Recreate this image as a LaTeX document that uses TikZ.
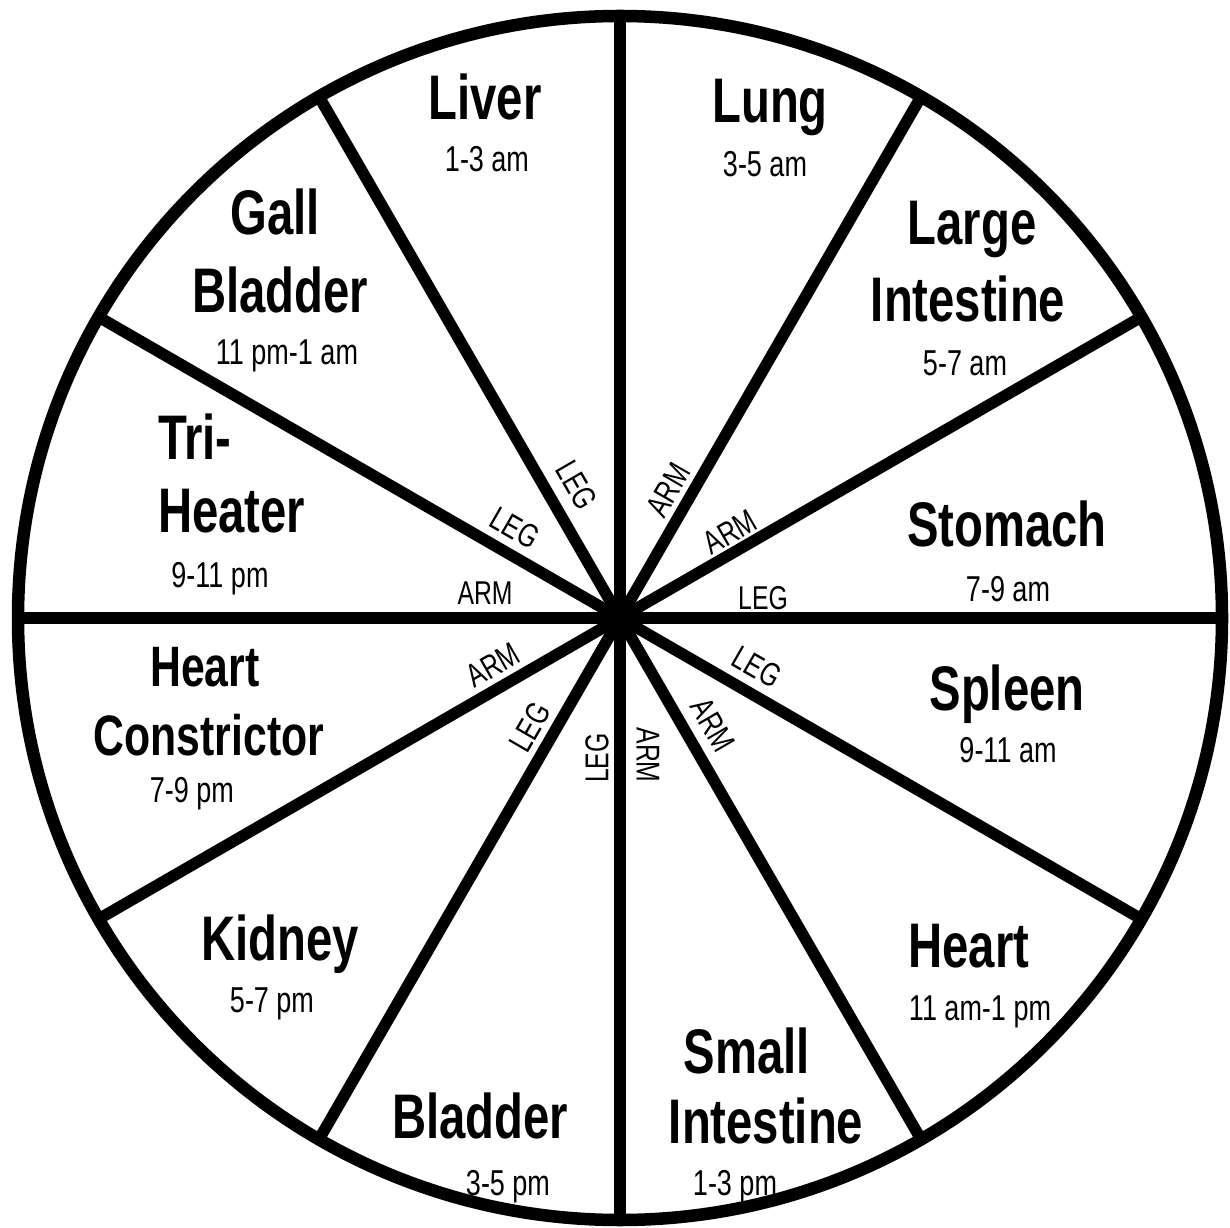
\documentclass[tikz,border=0pt]{standalone}
\usepackage{fontspec}
\setmainfont{Liberation Sans}[FakeStretch=0.75]
\usepackage{tikz}
\usetikzlibrary{positioning,calc}

\begin{document}
\begin{tikzpicture}[x=1pt,y=1pt,
	organ/.style={font=\fontsize{63}{70}\selectfont\bfseries, anchor=base, inner sep=0pt},
	organsm/.style={font=\fontsize{57}{64}\selectfont\bfseries, anchor=base, inner sep=0pt},
	hours/.style={font=\fontsize{36}{40}\selectfont, anchor=base, inner sep=0pt},
	limb/.style={font=\fontsize{33}{36}\selectfont, inner sep=0pt},
	spoke/.style={line width=11.5pt},
	rim/.style={line width=12.5pt}]
		\useasboundingbox (0,0) rectangle (1230,1227);

		% wheel
		\coordinate (hub) at (620,609);
		\draw[rim] (hub) circle (602);
		\foreach \a in {0,30,...,330}
			\draw[spoke] (hub) -- ++(\a:602);
		\fill (hub) circle (20);

		% organs and hours
		\node[organ] (liver) at (485,1107) {Liver};
		\node[hours] (liverh) at (487,1055) {1-3 am};
		\node[organ] (lung) at (770,1104) {Lung};
		\node[hours] (lungh) at (765,1050) {3-5 am};
		\node[organ] (gall1) at (275,992) {Gall};
		\node[organ] (gall2) at (280,914) {Bladder};
		\node[hours] (gallh) at (287,862) {11 pm-1 am};
		\node[organ] (large1) at (972,982) {Large};
		\node[organ] (large2) at (968,905) {Intestine};
		\node[hours] (largeh) at (965,851) {5-7 am};
		\node[organ, anchor=base west] (tri1) at (158,767) {Tri-};
		\node[organ, anchor=base west] (tri2) at (158,694) {Heater};
		\node[hours] (trih) at (220,639) {9-11 pm};
		\node[organ] (stomach) at (1007,680) {Stomach};
		\node[hours] (stomachh) at (1008,625) {7-9 am};
		\node[organsm] (hc1) at (205,540) {Heart};
		\node[organsm] (hc2) at (209,472) {Constrictor};
		\node[hours] (hch) at (192,425) {7-9 pm};
		\node[organ] (spleen) at (1007,517) {Spleen};
		\node[hours] (spleenh) at (1008,465) {9-11 am};
		\node[organ] (kidney) at (280,267) {Kidney};
		\node[hours] (kidneyh) at (272,215) {5-7 pm};
		\node[organ] (heart) at (969,260) {Heart};
		\node[hours] (hearth) at (980,207) {11 am-1 pm};
		\node[organ] (small1) at (747,154) {Small};
		\node[organ] (small2) at (766,84) {Intestine};
		\node[hours] (smallh) at (735,32) {1-3 pm};
		\node[organ] (bladder) at (480,89) {Bladder};
		\node[hours] (bladderh) at (508,32) {3-5 pm};

		% limb labels along the spokes
		\node[limb, rotate=-60] (leg1) at (577,742) {LEG};
		\node[limb, rotate=-30] (leg2) at (515,699) {LEG};
		\node[limb] (arm1) at (485,634) {ARM};
		\node[limb, rotate=30] (arm2) at (493,562) {ARM};
		\node[limb, rotate=60] (leg3) at (530,500) {LEG};
		\node[limb, rotate=90] (leg4) at (597,469) {LEG};
		\node[limb, rotate=-90] (arm3) at (648,472) {ARM};
		\node[limb, rotate=-60] (arm4) at (713,502) {ARM};
		\node[limb, rotate=-30] (leg5) at (757,560) {LEG};
		\node[limb] (leg6) at (763,629) {LEG};
		\node[limb, rotate=30] (arm5) at (730,695) {ARM};
		\node[limb, rotate=60] (arm6) at (668,737) {ARM};
	\end{tikzpicture}
\end{document}
